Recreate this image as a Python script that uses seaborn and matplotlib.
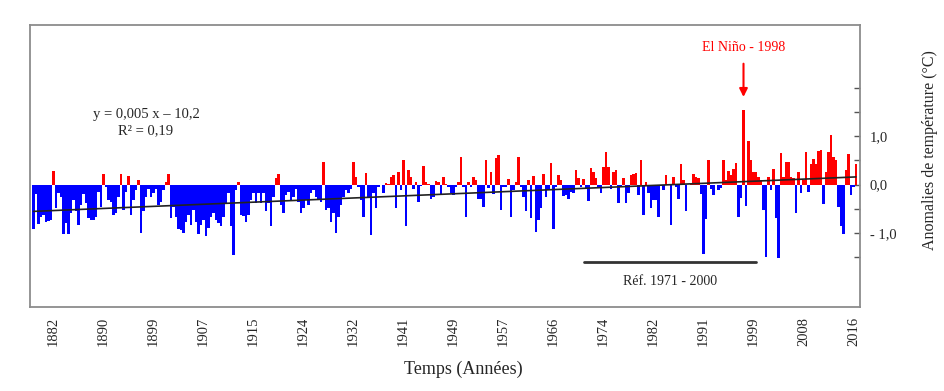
import numpy as np
import pandas as pd
import matplotlib
matplotlib.use("Agg")
import matplotlib.pyplot as plt
import seaborn as sns

# Temperature anomalies (deg C), one bar per time step
anomalies = [
    -0.91, -0.20, -0.81, -0.66, -0.62, -0.76, -0.74, -0.72, 0.28, -0.49,
    -0.18, -0.25, -1.02, -0.78, -1.02, -0.59, -0.32, -0.54, -0.83, -0.42,
    -0.19, -0.38, -0.69, -0.72, -0.72, -0.66, -0.15, -0.45, 0.21, -0.04,
    -0.32, -0.35, -0.62, -0.59, -0.25, 0.21, -0.52, -0.15, 0.17, -0.62,
    -0.32, -0.11, 0.09, -1.00, -0.55, -0.25, -0.08, -0.25, -0.18, -0.08,
    -0.42, -0.35, -0.11, 0.06, 0.21, -0.69, -0.45, -0.66, -0.91, -0.93,
    -1.00, -0.76, -0.62, -0.83, -0.52, -0.76, -1.01, -0.83, -0.72, -1.05,
    -0.89, -0.66, -0.59, -0.72, -0.79, -0.85, -0.66, -0.38, -0.18, -0.86,
    -1.44, -0.11, 0.06, -0.62, -0.64, -0.76, -0.62, -0.32, -0.18,
    -0.38, -0.18, -0.38, -0.18, -0.55, -0.38, -0.85, -0.25, 0.13, 0.21,
    -0.42, -0.59, -0.21, -0.15, -0.32, -0.25, -0.08, -0.35, -0.59, -0.49,
    -0.32, -0.42, -0.18, -0.11, -0.25, -0.32, -0.35, 0.47, -0.52, -0.49,
    -0.76, -0.59, -1.00, -0.66, -0.42, -0.25, -0.11, -0.18, -0.08, 0.47,
    0.16, -0.04, -0.32, -0.66, 0.24, -0.25, -1.03, -0.18, -0.49, -0.04,
    -0.01, -0.18, 0.04, 0.02, 0.16, 0.19, -0.49, 0.26, -0.11, 0.51,
    -0.86, 0.30, 0.16, -0.08, 0.06, -0.35, -0.02, 0.38, 0.06, 0.02,
    -0.30, -0.25, 0.08, 0.06, -0.21, 0.16, 0.01, -0.04, -0.18, -0.21,
    -0.04, 0.06, 0.58, -0.04, -0.66, 0.06, -0.04, 0.16, 0.09, -0.30,
    -0.30, -0.45, 0.50, -0.06, 0.26, -0.20, 0.55, 0.62, -0.52, -0.04,
    -0.04, 0.11, -0.66, -0.11, 0.06, 0.57, -0.04, -0.25, -0.55, 0.09,
    -0.69, 0.17, -0.98, -0.72, -0.49, 0.21, -0.25, -0.11, 0.45, -0.91,
    -0.04, 0.19, 0.09, -0.23, -0.21, -0.30, -0.15, -0.17, 0.30, 0.13,
    -0.04, 0.11, -0.08, -0.34, 0.35, 0.26, 0.13, -0.04, -0.18, 0.36,
    0.67, 0.36, -0.08, 0.26, 0.31, -0.37, -0.04, 0.13, -0.37, -0.18,
    0.19, 0.23, 0.24, -0.21, 0.50, -0.62, 0.06, -0.18, -0.49, -0.32,
    -0.32, -0.66, -0.03, -0.11, 0.19, 0.02, -0.83, 0.16, -0.04, -0.30,
    0.43, 0.09, -0.55, -0.01, 0.02, 0.21, 0.16, 0.13, -0.20, -1.43, -0.70,
    0.50, -0.08, -0.21, -0.01, -0.11, -0.06, 0.51, 0.09, 0.28, 0.19,
    0.33, 0.45, -0.66, -0.28, 1.53, -0.44, 0.91, 0.51, 0.26, 0.26,
    0.16, 0.09, -0.52, -1.49, 0.16, -0.11, 0.33, -0.69, -1.51, 0.65,
    0.16, 0.47, 0.47, 0.16, 0.13, -0.59, 0.26, -0.18, 0.09, 0.68,
    -0.15, 0.43, 0.53, 0.43, 0.69, 0.72, -0.40, 0.26, 0.67, 1.03,
    0.58, 0.50, -0.45, -0.86, -1.01, 0.31, 0.64, -0.21, -0.04, 0.43,
]

year_labels = ["1882", "1890", "1899", "1907", "1915", "1924", "1932", "1941",
               "1949", "1957", "1966", "1974", "1982", "1991", "1999", "2008", "2016"]
first_label_bar = 8
bars_per_label = 20

# linear trend (start / end of the series) and reference period 1971-2000
trend_bars = [0, 329]
trend_values = [-0.55, 0.16]
ref_bars = [220, 289]
ref_level = [-1.6, -1.6]
elnino_bar = 284

df = pd.DataFrame({"t": range(len(anomalies)), "anom": anomalies})
df["sign"] = np.where(df["anom"] >= 0, "pos", "neg")

sns.set_style("white")
plt.rcParams["font.family"] = ["Liberation Serif", "DejaVu Serif"]

fig = plt.figure(figsize=(9.45, 3.91), dpi=100)
ax = fig.add_axes([30 / 945, 1 - 307 / 391, 830 / 945, 282 / 391])

sns.barplot(data=df, x="t", y="anom", hue="sign",
            palette={"pos": "#ff0000", "neg": "#0000ff"}, saturation=1,
            dodge=False, width=0.95, linewidth=0, legend=False, ax=ax)

sns.lineplot(x=trend_bars, y=trend_values, color="#222222", lw=1.2, ax=ax)
sns.lineplot(x=ref_bars, y=ref_level, color="#333333", lw=2, ax=ax)

ax.set_xlim(-1.4, 330.6)
ax.set_ylim(-2.52, 3.29)

# y axis on the right
ax.yaxis.tick_right()
ax.yaxis.set_label_position("right")
ax.set_yticks([-1.5, -1.0, -0.5, 0, 0.5, 1.0, 1.5, 2.0])
ax.set_yticklabels(["", "- 1,0", "", "0,0", "", "1,0", "", ""])
ax.set_ylabel("Anomalies de température (°C)", fontsize=11.5)
ax.yaxis.set_label_coords(1.075, 0.557)

# x ticks every 10 bars, labels every 20
ticks = np.arange(first_label_bar, len(anomalies), bars_per_label // 2)
labels = []
for k in range(len(ticks)):
    labels.append(year_labels[k // 2] if k % 2 == 0 else "")
ax.set_xticks(ticks)
ax.set_xticklabels(labels, rotation=90)
ax.set_xlabel("Temps (Années)", fontsize=13)
ax.xaxis.set_label_coords(0.522, -0.19)

ax.tick_params(axis="both", direction="in", length=4, width=1,
               color="#555555", labelsize=10.5)
ax.tick_params(axis="x", pad=7)
ax.tick_params(axis="y", pad=7, right=True, left=False)

for s in ax.spines.values():
    s.set_visible(True)
    s.set_color("#8c8c8c")
    s.set_linewidth(1.3)

ax.annotate("", xy=(elnino_bar, 1.75), xytext=(elnino_bar, 2.55),
            arrowprops=dict(arrowstyle="-|>", color="#ff0000", lw=1.5,
                            mutation_scale=12))
ax.text(elnino_bar, 2.82, "El Niño - 1998", color="#ff0000",
        ha="center", va="center", fontsize=10)

ax.text(45, 1.44, "y = 0,005 x – 10,2", ha="center", va="center", fontsize=10.5)
ax.text(45, 1.11, "R² = 0,19", ha="center", va="center", fontsize=10.5)
ax.text(np.mean(ref_bars), -1.99, "Réf. 1971 - 2000", ha="center",
        va="center", fontsize=10)

fig.savefig("out.png", dpi=100)
